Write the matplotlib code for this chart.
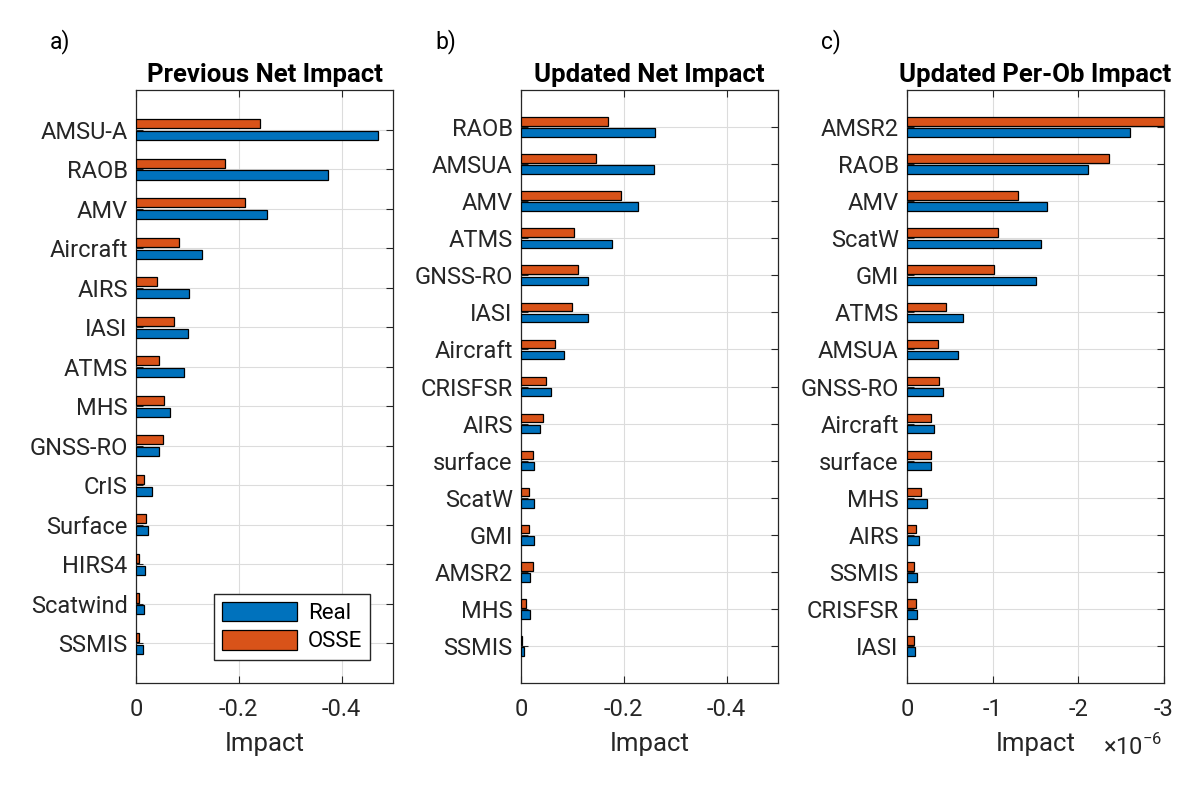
import numpy as np
import matplotlib
matplotlib.use("Agg")
import matplotlib.pyplot as plt

plt.rcParams['font.family'] = ['Roboto', 'DejaVu Sans']
plt.rcParams['mathtext.fontset'] = 'custom'
plt.rcParams['mathtext.rm'] = 'Roboto'

# ---------------- data (impacts, negative = beneficial) ----------------
cats_a = ["AMSU-A", "RAOB", "AMV", "Aircraft", "AIRS", "IASI", "ATMS", "MHS",
          "GNSS-RO", "CrIS", "Surface", "HIRS4", "Scatwind", "SSMIS"]
real_a = [-0.471, -0.374, -0.254, -0.128, -0.104, -0.101, -0.094, -0.067,
          -0.045, -0.031, -0.0225, -0.018, -0.0155, -0.013]
osse_a = [-0.241, -0.173, -0.212, -0.084, -0.040, -0.074, -0.0445, -0.054,
          -0.052, -0.0155, -0.020, -0.005, -0.005, -0.005]

cats_b = ["RAOB", "AMSUA", "AMV", "ATMS", "GNSS-RO", "IASI", "Aircraft", "CRISFSR",
          "AIRS", "surface", "ScatW", "GMI", "AMSR2", "MHS", "SSMIS"]
real_b = [-0.2615, -0.259, -0.227, -0.177, -0.130, -0.130, -0.084, -0.059,
          -0.037, -0.025, -0.025, -0.025, -0.0175, -0.0175, -0.005]
osse_b = [-0.170, -0.145, -0.194, -0.103, -0.111, -0.099, -0.066, -0.049,
          -0.043, -0.0226, -0.0156, -0.0156, -0.0226, -0.0097, -0.001]

cats_c = ["AMSR2", "RAOB", "AMV", "ScatW", "GMI", "ATMS", "AMSUA", "GNSS-RO",
          "Aircraft", "surface", "MHS", "AIRS", "SSMIS", "CRISFSR", "IASI"]
real_c = [-2.60e-6, -2.11e-6, -1.64e-6, -1.57e-6, -1.50e-6, -0.65e-6, -0.594e-6, -0.415e-6,
          -0.315e-6, -0.283e-6, -0.237e-6, -0.135e-6, -0.12e-6, -0.12e-6, -0.093e-6]
osse_c = [-3.0e-6, -2.36e-6, -1.30e-6, -1.064e-6, -1.02e-6, -0.458e-6, -0.357e-6, -0.373e-6,
          -0.283e-6, -0.283e-6, -0.163e-6, -0.105e-6, -0.077e-6, -0.105e-6, -0.077e-6]

titles = ["Previous Net Impact", "Updated Net Impact", "Updated Per-Ob Impact"]
letters = ["a)", "b)", "c)"]
xticks_ab = [0, -0.2, -0.4]
xticklabels_ab = ["0", "-0.2", "-0.4"]
xticks_c = [0, -1, -2, -3]
xticklabels_c = ["0", "-1", "-2", "-3"]

blue = "#0072BD"
orange = "#D95319"
dark = "#262626"

fig = plt.figure(figsize=(12, 7.89), dpi=100)
lefts = [136 / 1200, 521 / 1200, 907 / 1200]
W = 257 / 1200
B = (789 - 683) / 789
H = (683 - 90) / 789

panels = [
    (cats_a, real_a, osse_a, 1.0, (0, -0.5), xticks_ab, xticklabels_ab),
    (cats_b, real_b, osse_b, 1.0, (0, -0.5), xticks_ab, xticklabels_ab),
    (cats_c, real_c, osse_c, 1e-6, (0, -3), xticks_c, xticklabels_c),
]

for i, (cats, real, osse, scale, xlim, xt, xtl) in enumerate(panels):
    ax = fig.add_axes([lefts[i], B, W, H])
    n = len(cats)
    y = np.arange(1, n + 1)
    bh = 0.23
    off = 0.15
    hr = ax.barh(y + off, np.array(real) / scale, height=bh, color=blue,
                 edgecolor="black", linewidth=0.9, label="Real", zorder=3)
    ho = ax.barh(y - off, np.array(osse) / scale, height=bh, color=orange,
                 edgecolor="black", linewidth=0.9, label="OSSE", zorder=3)
    ax.set_ylim(n + 1, 0)
    ax.set_xlim(*xlim)
    ax.set_yticks(y)
    ax.set_yticklabels(cats)
    ax.set_xticks(xt)
    ax.set_xticklabels(xtl)
    ax.tick_params(direction="in", length=5, width=0.8, colors=dark,
                   labelsize=17, top=True, right=True, pad=6)
    ax.tick_params(axis="x", pad=11)
    ax.grid(True, color="#dcdcdc", linewidth=0.8, zorder=0)
    ax.set_axisbelow(True)
    for s in ax.spines.values():
        s.set_color(dark)
        s.set_linewidth(0.9)
    ax.set_xlabel("Impact", fontsize=18.5, color=dark, labelpad=8)
    ax.set_title(titles[i], fontsize=18.5, fontweight="bold", color="black",
                 pad=6)
    fig.text(lefts[i] - 86 / 1200, 1 - 48 / 789, letters[i], fontsize=16.5,
             color="black")
    if i == 0:
        ax.legend([hr, ho], ["Real", "OSSE"], loc="lower right", fontsize=16,
                  handlelength=3.4, handleheight=1.0, frameon=True, fancybox=False,
                  edgecolor=dark, framealpha=1, borderpad=0.35,
                  bbox_to_anchor=(0.955, 0.02), labelspacing=0.25, handletextpad=0.5)
    if i == 2:
        ax.text(0.995, -0.108, r"$\times10^{-6}$", transform=ax.transAxes,
                ha="right", va="center", fontsize=17, color=dark)

fig.savefig("out.png", dpi=100)
